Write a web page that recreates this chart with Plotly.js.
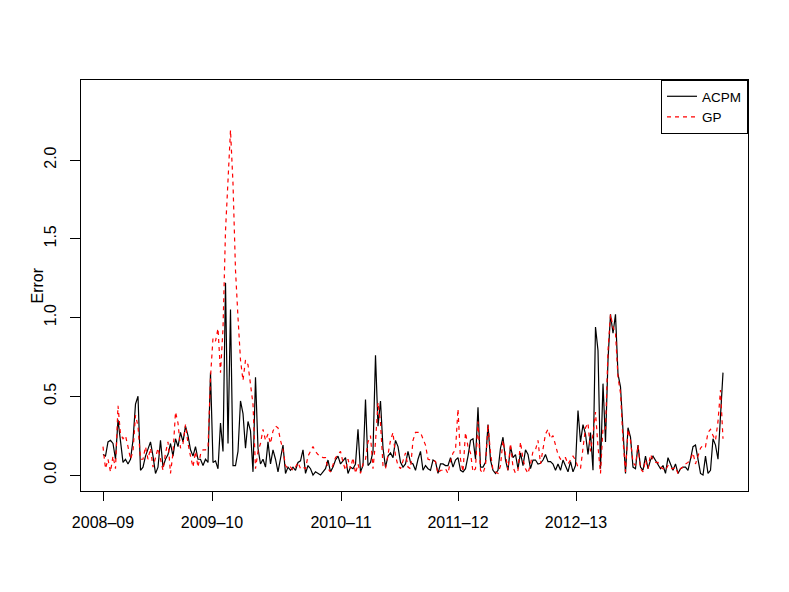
<!DOCTYPE html>
<html>
<head>
<meta charset="utf-8">
<script src="https://cdn.plot.ly/plotly-3.0.1.min.js"></script>
<style>
  html, body { margin: 0; padding: 0; background: #ffffff; }
  #chart { width: 789px; height: 592px; }
</style>
</head>
<body>
<div id="chart"></div>
<script>
/** Error chart: ACPM vs GP */

// series values, one per week index
const acpm = [
  0.13, 0.12, 0.21, 0.22, 0.20, 0.10, 0.35, 0.22, 0.08, 0.10,
  0.07, 0.10, 0.22, 0.45, 0.50, 0.03, 0.05, 0.12, 0.17, 0.21,
  0.12, 0.01, 0.05, 0.22, 0.05, 0.10, 0.13, 0.20, 0.12, 0.23,
  0.18, 0.27, 0.21, 0.31, 0.25, 0.16, 0.12, 0.18, 0.10, 0.10,
  0.06, 0.10, 0.08, 0.65, 0.08, 0.09, 0.04, 0.33, 0.15, 1.22,
  0.20, 1.05, 0.06, 0.06, 0.15, 0.47, 0.39, 0.17, 0.34, 0.28,
  0.02, 0.62, 0.17, 0.07, 0.10, 0.05, 0.21, 0.07, 0.16, 0.10,
  0.02, 0.10, 0.19, 0.01, 0.05, 0.03, 0.05, 0.03, 0.08, 0.09,
  0.16, 0.01, 0.06, 0.04, 0.00, 0.02, 0.01, 0.00, 0.02, 0.04,
  0.095, 0.02, 0.05, 0.095, 0.12, 0.07, 0.09, 0.11, 0.01, 0.05,
  0.04, 0.07, 0.29, 0.02, 0.06, 0.48, 0.06, 0.08, 0.15, 0.76,
  0.31, 0.47, 0.17, 0.05, 0.12, 0.14, 0.11, 0.22, 0.18, 0.08,
  0.05, 0.07, 0.15, 0.08, 0.07, 0.03, 0.10, 0.15, 0.03, 0.06,
  0.04, 0.03, 0.095, 0.085, 0.01, 0.07, 0.07, 0.06, 0.06, 0.11,
  0.05, 0.095, 0.11, 0.03, 0.02, 0.04, 0.12, 0.22, 0.23, 0.10,
  0.43, 0.05, 0.05, 0.08, 0.32, 0.095, 0.03, 0.01, 0.03, 0.17,
  0.24, 0.095, 0.03, 0.18, 0.11, 0.13, 0.04, 0.14, 0.06, 0.16,
  0.13, 0.04, 0.095, 0.095, 0.07, 0.074, 0.095, 0.13, 0.085, 0.085,
  0.07, 0.03, 0.07, 0.03, 0.095, 0.06, 0.02, 0.085, 0.02, 0.06,
  0.41, 0.21, 0.32, 0.26, 0.13, 0.27, 0.03, 0.94, 0.79, 0.04,
  0.58, 0.21, 0.73, 1.02, 0.90, 1.02, 0.64, 0.56, 0.26, 0.01,
  0.30, 0.24, 0.05, 0.04, 0.19, 0.05, 0.03, 0.12, 0.04, 0.095,
  0.12, 0.095, 0.07, 0.04, 0.06, 0.01, 0.11, 0.07, 0.03, 0.07,
  0.01, 0.04, 0.05, 0.05, 0.03, 0.10, 0.18, 0.19, 0.095, 0.01,
  0.00, 0.12, 0.01, 0.03, 0.23, 0.19, 0.10, 0.39, 0.65
];

const gp = [
  0.18, 0.04, 0.10, 0.02, 0.12, 0.04, 0.44, 0.26, 0.23, 0.25,
  0.18, 0.10, 0.15, 0.38, 0.31, 0.10, 0.10, 0.18, 0.10, 0.17,
  0.05, 0.12, 0.17, 0.10, 0.03, 0.14, 0.21, 0.01, 0.14, 0.40,
  0.33, 0.17, 0.20, 0.32, 0.20, 0.12, 0.05, 0.15, 0.05, 0.13,
  0.16, 0.16, 0.17, 0.62, 0.87, 0.85, 0.93, 0.65, 0.93, 1.55,
  1.90, 2.19, 1.85, 1.30, 1.00, 0.73, 0.60, 0.73, 0.70, 0.58,
  0.45, 0.04, 0.15, 0.20, 0.29, 0.22, 0.26, 0.20, 0.28, 0.31,
  0.30, 0.22, 0.16, 0.06, 0.04, 0.05, 0.03, 0.05, 0.08, 0.04,
  0.05, 0.04, 0.12, 0.15, 0.18, 0.15, 0.13, 0.12, 0.11, 0.11,
  0.04, 0.02, 0.07, 0.11, 0.13, 0.15, 0.08, 0.03, 0.10, 0.04,
  0.11, 0.01, 0.07, 0.01, 0.07, 0.10, 0.21, 0.25, 0.04, 0.21,
  0.46, 0.33, 0.06, 0.04, 0.13, 0.22, 0.27, 0.12, 0.06, 0.04,
  0.09, 0.14, 0.05, 0.04, 0.22, 0.27, 0.27, 0.27, 0.23, 0.19,
  0.10, 0.095, 0.095, 0.085, 0.01, 0.03, 0.03, 0.04, 0.01, 0.09,
  0.14, 0.16, 0.42, 0.10, 0.02, 0.27, 0.18, 0.14, 0.02, 0.04,
  0.34, 0.03, 0.01, 0.06, 0.32, 0.14, 0.03, 0.02, 0.01, 0.06,
  0.22, 0.13, 0.03, 0.20, 0.05, 0.01, 0.03, 0.21, 0.10, 0.04,
  0.01, 0.07, 0.15, 0.16, 0.22, 0.07, 0.18, 0.26, 0.29, 0.23,
  0.25, 0.18, 0.13, 0.10, 0.11, 0.11, 0.07, 0.095, 0.12, 0.095,
  0.05, 0.04, 0.18, 0.30, 0.33, 0.15, 0.26, 0.40, 0.18, 0.01,
  0.30, 0.29, 0.79, 1.02, 0.94, 0.90, 0.62, 0.52, 0.22, 0.02,
  0.29, 0.22, 0.08, 0.06, 0.19, 0.04, 0.02, 0.095, 0.04, 0.13,
  0.095, 0.08, 0.08, 0.05, 0.04, 0.03, 0.06, 0.04, 0.04, 0.05,
  0.01, 0.04, 0.05, 0.07, 0.08, 0.10, 0.14, 0.07, 0.12, 0.17,
  0.19, 0.18, 0.27, 0.29, 0.25, 0.22, 0.34, 0.54, 0.23
];

// season tick labels and where they sit on the index axis
const seasonLabels = ["2008\u201309", "2009\u201310", "2010\u201311", "2011\u201312", "2012\u201313"];
const seasonAt = [1, 44.6, 96.2, 143, 190.2];

const yTicks = [0, 0.5, 1, 1.5, 2];
const yTickText = ["0.0", "0.5", "1.0", "1.5", "2.0"];

function drawErrorChart(id){

    var idx = [];
    for (let i = 0; i < acpm.length; i++){
        idx.push(i + 1);
    }

    // Define Data
    const chartdata = [
      {
        x: idx,
        y: acpm,
        mode: "lines",
        name: "ACPM",
        line: {color: "#000000", width: 1.2}
      },
      {
        x: idx,
        y: gp,
        mode: "lines",
        name: "GP",
        line: {color: "#ff0000", width: 1.2, dash: "4px,4px"}
      }
    ];

    // Define Layout
    const layout = {
      width: 789,
      height: 592,
      margin: {l: 81, r: 41, t: 80, b: 101},
      paper_bgcolor: "#ffffff",
      plot_bgcolor: "#ffffff",
      font: {family: "Liberation Sans, Arial, sans-serif", size: 16, color: "#000000"},
      showlegend: true,
      legend: {
          x: 1, y: 1, xanchor: "right", yanchor: "top",
          bordercolor: "#000000", borderwidth: 1, bgcolor: "#ffffff",
          font: {size: 13.5},
          tracegroupgap: 0
      },
      xaxis: {
          range: [-7.8, 259],
          tickvals: seasonAt,
          ticktext: seasonLabels,
          ticks: "outside", ticklen: 9, tickwidth: 1, tickcolor: "#000000",
          ticklabelstandoff: 8,
          showline: true, mirror: true, linecolor: "#000000", linewidth: 1,
          showgrid: false, zeroline: false
      },
      yaxis: {
          range: [-0.1016, 2.508],
          tickvals: yTicks,
          ticktext: yTickText,
          tickangle: -90,
          ticks: "outside", ticklen: 10, tickwidth: 1, tickcolor: "#000000",
          ticklabelstandoff: 8,
          showline: true, mirror: true, linecolor: "#000000", linewidth: 1,
          showgrid: false, zeroline: false
      },
      // y label, set a bit closer to the axis than the axis title allows
      annotations: [
        {
          text: "Error",
          xref: "paper", yref: "paper",
          x: 0, y: 0.5,
          xanchor: "center", yanchor: "middle",
          xshift: -44,
          textangle: -90,
          showarrow: false,
          font: {size: 16}
        }
      ]
    };

    // Define Config
    const config = {
      displaylogo: false,
      displayModeBar: false,
      responsive: false
    };

    Plotly.newPlot(id, chartdata, layout, config);
}

drawErrorChart("chart");
</script>
</body>
</html>
